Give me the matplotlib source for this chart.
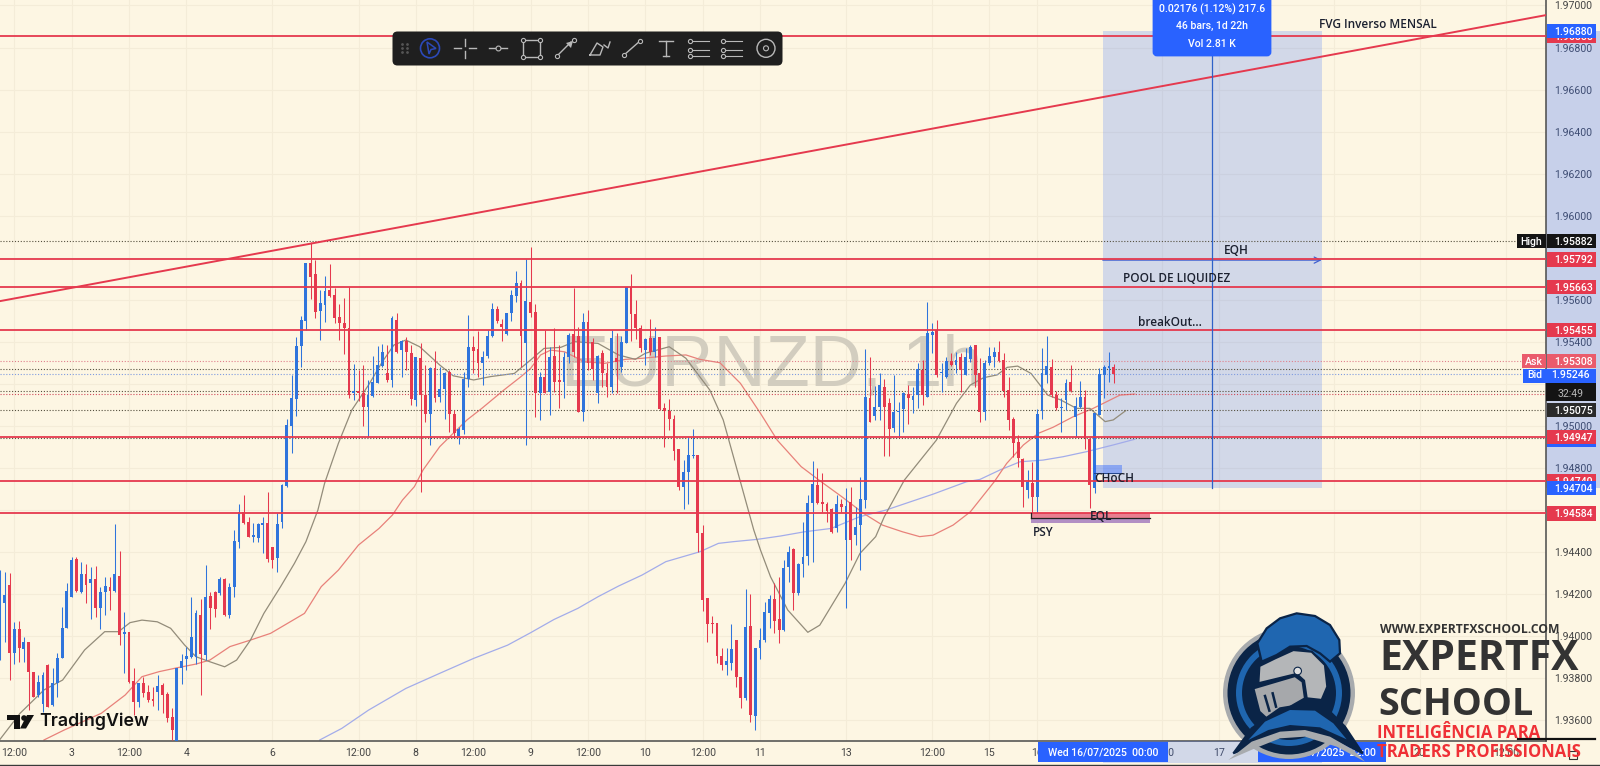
#!/usr/bin/env python3
import numpy as np
import matplotlib
matplotlib.use('Agg')
import matplotlib.pyplot as plt
from matplotlib.patches import Rectangle, Circle, Polygon, FancyBboxPatch, Wedge

plt.rcParams['font.family'] = ['Roboto', 'DejaVu Sans']

# hourly EURNZD candles, in 1/100000 of a price unit
opens = [
    193895,194160,194244,193919,194033,193938,193971,193832,193721,193678,
    193863,193673,193776,193895,194041,194188,194366,194212,194296,194252,
    194271,194133,194212,194233,194217,194287,194009,194019,193789,193689,
    193779,193737,193700,193737,193768,193724,193618,193499,193848,193890,
    193903,193903,194101,193911,194192,194212,194204,194271,194101,194236,
    194450,194593,194545,194474,194466,194528,194540,194426,194371,194545,
    194715,195002,195128,195380,195501,195774,195723,195547,195575,195647,
    195623,195517,195488,195468,195155,195168,195155,195089,195144,195206,
    195285,195254,195219,195504,195361,195404,195349,195124,195322,195147,
    195057,195274,195140,195174,195258,195057,194952,194981,195222,195377,
    195365,195301,195333,195428,195555,195485,195437,195536,195618,195682,
    195393,195591,195540,195155,195235,195163,195333,195219,195211,195330,
    195437,195428,195068,195496,195401,195155,195349,195250,195187,195322,
    195279,195396,195659,195531,195464,195361,195417,195353,195425,195084,
    195071,195032,194891,194712,194783,194856,194862,194489,194180,194065,
    194065,193906,193863,193871,193982,193805,193705,194049,193621,193943,
    193982,194109,194176,194080,194030,194328,194413,194204,194344,194382,
    194635,194719,194640,194629,194604,194513,194629,194458,194640,194481,
    194529,194648,195132,195048,195092,195187,195108,194989,195068,195079,
    195152,195124,195147,195266,195140,195433,195457,195250,195235,195311,
    195290,195330,195243,195317,195385,195250,195068,195298,195330,195353,
    195314,195171,195032,194925,194843,194696,194727,194664,195073,195242,
    195282,195147,195084,195124,195211,195044,195089,195139,194937,194704,
    195052,195242,195277,195282,
]
closes = [
    194165,194196,193922,194033,193943,193974,193832,193713,193784,193816,
    193665,193776,193895,194038,194215,194363,194217,194296,194244,194271,
    194133,194212,194239,194217,194295,194006,194022,193784,193689,193776,
    193729,193697,193694,193764,193721,193610,193554,193848,193884,193906,
    193995,194109,193916,194188,194133,194128,194271,194101,194236,194455,
    194593,194537,194474,194482,194534,194540,194366,194363,194534,194719,
    195005,195135,195380,195504,195774,195710,195544,195586,195644,195618,
    195512,195488,195468,195147,195168,195155,195092,195147,195208,195290,
    195353,195219,195512,195353,195404,195353,195127,195327,195147,195057,
    195274,195132,195174,195254,195057,194965,194986,195222,195377,195358,
    195298,195330,195428,195555,195499,195472,195536,195623,195682,195428,
    195594,195536,195155,195235,195155,195327,195211,195208,195327,195433,
    195353,195068,195496,195298,195269,195333,195250,195187,195417,195306,
    195401,195659,195531,195464,195369,195412,195353,195417,195081,195071,
    195032,194883,194708,194783,194862,194859,194490,194172,194057,194058,
    193906,193863,193882,193938,193805,193705,194042,193626,193943,193982,
    194114,194176,194074,194030,194323,194402,194207,194344,194378,194635,
    194724,194635,194629,194597,194497,194629,194616,194619,194458,194521,
    194651,195140,195021,195092,195195,195092,194984,195068,195071,195155,
    195132,195144,195269,195147,195444,195449,195243,195258,195311,195290,
    195314,195266,195330,195377,195243,195068,195298,195333,195353,195309,
    195166,195029,194918,194846,194708,194735,194664,195057,195254,195285,
    195147,195084,195089,195206,195168,195095,195136,194941,194719,195060,
    195247,195282,195285,195246,
]
highs = [
    194315,194307,194299,194069,194074,193998,193974,193832,193816,193832,
    193868,193848,193922,194141,194252,194375,194375,194355,194344,194331,
    194334,194233,194283,194283,194534,194407,194117,194019,193848,193779,
    193808,193768,193760,193816,193779,193737,193657,193848,193916,193951,
    194188,194125,194176,194339,194212,194217,194283,194275,194252,194505,
    194629,194672,194566,194537,194540,194569,194686,194426,194585,194725,
    195032,195243,195425,195523,195774,195877,195789,195647,195713,195770,
    195655,195580,195610,195659,195293,195266,195290,195219,195333,195380,
    195390,195385,195523,195539,195409,195425,195385,195330,195393,195290,
    195282,195358,195279,195258,195266,195076,194997,195255,195528,195428,
    195452,195358,195457,195583,195571,195507,195539,195647,195737,195694,
    195793,195853,195580,195258,195457,195374,195464,195385,195353,195444,
    195655,195472,195536,195552,195417,195338,195361,195298,195457,195441,
    195428,195663,195721,195599,195480,195417,195507,195469,195425,195111,
    195127,195052,194891,194838,194949,194986,194862,194529,194180,194096,
    194065,193946,193946,194058,193982,193805,194223,194201,193946,194038,
    194161,194196,194252,194283,194363,194429,194418,194347,194545,194672,
    194835,194802,194775,194640,194608,194672,194651,194703,194711,194616,
    194759,195365,195330,195190,195250,195224,195132,195243,195116,195163,
    195195,195187,195298,195314,195588,195491,195504,195298,195327,195349,
    195353,195346,195369,195385,195385,195322,195314,195377,195377,195406,
    195349,195235,195044,194957,194846,194791,194830,195079,195369,195428,
    195317,195168,195131,195222,195290,195139,195215,195171,194941,195060,
    195274,195290,195350,195295,
]
lows = [
    193887,193974,193792,193868,193879,193879,193649,193713,193713,193642,
    193662,193668,193713,193895,194038,194188,194212,194207,194160,194081,
    194090,194033,194101,194125,194212,193959,193824,193779,193626,193665,
    193713,193689,193668,193649,193634,193594,193507,193467,193773,193840,
    193895,193868,193721,193887,194033,194093,194196,194096,194085,194185,
    194421,194534,194470,194450,194450,194394,194355,194323,194307,194515,
    194712,194873,195049,195282,195457,195602,195512,195409,195496,195615,
    195488,195409,195342,195132,195124,195120,194999,194949,195140,195203,
    195282,195211,195187,195349,195235,195266,195100,195097,194688,195021,
    194910,195116,195116,195032,194973,194949,194914,194962,195184,195250,
    195235,195195,195322,195425,195491,195406,195431,195501,195591,195282,
    194910,195520,195044,195029,195155,195052,195163,195084,195132,195298,
    195330,195068,195025,195266,195219,195111,195187,195140,195155,195155,
    195258,195393,195406,195412,195353,195290,195338,195330,195076,194899,
    194981,194838,194696,194604,194629,194846,194402,194122,193971,194014,
    193871,193840,193816,193840,193757,193657,193697,193594,193554,193892,
    193974,194038,194017,193966,194027,194260,194125,194196,194283,194339,
    194355,194629,194592,194545,194489,194497,194592,194133,194363,194434,
    194315,194608,195017,195029,195029,194859,194857,194970,194949,194973,
    195010,195063,195084,195100,195136,195346,195235,195163,195227,195285,
    195250,195163,195243,195306,195187,195021,195029,195290,195282,195306,
    195140,194981,194854,194807,194616,194656,194585,194588,195032,195203,
    195139,195076,194973,195076,195163,194949,195084,194889,194608,194683,
    195052,195131,195211,195206,
]

# moving averages: bar position, value
grey_ma_bars = [0,4.2,9.2,13.1,17.7,21.9,24.8,27.2,29.7,32.9,35.7,38.6,41,43.9,47,49.5,52.4,55.2,58.7,61.6,
                64,66.5,67.9,70.8,73.6,77.1,80,82.4,84.9,87.8,92,94.8,99.1,102.6,107.6,111,113.8,117.3,120.2,125.1,
                129.4,132.9,135,140,143.5,148.5,151.3,154.8,157.7,159.1,161.2,164.8,169,171.5,176.8,179.9,183.2,185,189.2,195.9,
                200.1,203,205.8,208.6,210.7,212.9,215.7,219.2,221.9,225.2,228,231.2,232.9,235.5]
grey_ma_vals = [193510,193634,193745,193792,193935,194022,194022,194065,194077,194069,194038,193959,193903,193879,193855,193887,193982,194109,194236,194347,
                194450,194600,194727,194918,195076,195195,195306,195385,195409,195377,195290,195239,195219,195235,195250,195314,195369,195374,195401,195393,
                195338,195317,195346,195377,195322,195171,195029,194743,194505,194410,194283,194125,194019,194053,194252,194394,194474,194569,194743,194933,
                195108,195195,195230,195243,195279,195285,195250,195147,195124,195084,195084,195021,195029,195073]
red_ma_bars = [9.2,13.4,21.2,26.2,29.7,33.3,37.2,41,43.9,48.1,52.4,56.6,63.7,67.2,70.8,75,79.3,82.1,84.2,86.7,
               88.5,92,94.8,97.7,100.8,105.4,109,111,113.1,115.2,118.1,122.3,126.5,130.8,134.3,139.3,143.5,146.4,150.6,154.9,
               159.1,162.6,167.6,171.8,176.1,180.7,184.6,188.8,192.4,195.2,199.4,203,208,210.6,214.1,217.2,220.3,224.5,228.7,234.3,237.4]
red_ma_vals = [193507,193554,193634,193721,193808,193832,193851,193868,193887,193951,193982,194014,194109,194236,194315,194434,194513,194577,194648,194712,
               194791,194902,194965,195029,195084,195171,195235,195274,195338,195361,195353,195306,195298,195317,195322,195333,195338,195317,195301,195203,
               195060,194933,194807,194735,194664,194584,194529,194497,194474,194481,194529,194592,194735,194822,194910,194965,194994,195044,195084,195147,195152]
blue_ma_bars = [66.9,71.5,77.1,84.9,92,99.1,106.2,111,115.9,120.9,125.1,129.4,134.3,139.3,146.4,150.3,153.4,158.4,163.3,168.3,
                173.9,179.9,185.3,195.2,202.2,205,209.2,213.4,218.2,222.4,227.3,232.9,237.4]
blue_ma_vals = [193507,193562,193649,193752,193824,193895,193958,194017,194080,194133,194188,194239,194291,194355,194402,194442,194450,194461,194477,194497,
                194513,194569,194600,194676,194735,194746,194791,194830,194838,194854,194878,194910,194937]

red_levels = [1.96855, 1.95792, 1.95663, 1.95455, 1.94947, 1.94740, 1.94584]
dotted_levels = [1.95882, 1.95271, 1.95168, 1.95075, 1.94941]
dotted_soft_levels = [(1.95308, '#e0808c'), (1.95246, '#7f9be0'), (1.95152, '#d04a5a')]

trend_bars = [0, 323.4]
trend_prices = [1.95594, 1.96954]

range_bars = [230.7, 276.5]
range_prices = [1.94704, 1.96880]
range_mid_bar = 253.6

price_ticks = [1.936 + 0.002 * k for k in range(18)]
time_tick_bars = [3, 15, 27, 39, 57, 75, 87, 99, 111, 123, 135, 147, 159, 177, 195, 207, 217, 243, 255, 279, 297, 315]
time_tick_labels = ['12:00', '3', '12:00', '4', '6', '12:00', '8', '12:00', '9', '12:00', '10', '12:00', '11', '13',
                    '12:00', '15', '16', '12:00', '17', '18', '20', '12:00']

# (price, text, colour, side label) for the price scale tags
price_tags = [
    (1.96855, '1.96855', '#e5394e', None),
    (1.96880, '1.96880', '#2962ff', None),
    (1.95882, '1.95882', '#141414', 'High'),
    (1.95792, '1.95792', '#e5394e', None),
    (1.95663, '1.95663', '#e5394e', None),
    (1.95455, '1.95455', '#e5394e', None),
    (1.95308, '1.95308', '#ea5b6c', 'Ask'),
    (1.95075, '1.95075', '#2a2a2a', None),
    (1.94935, '1.94935', '#2962ff', None),
    (1.94947, '1.94947', '#e5394e', None),
    (1.94740, '1.94740', '#e5394e', None),
    (1.94704, '1.94704', '#2962ff', None),
    (1.94584, '1.94584', '#e5394e', None),
]

BG = '#fdf6e3'
GRID = '#f4ecd8'
BLUE = '#2f74dc'
RED = '#e5394e'
LINE_RED = '#e5394e'
TV_BLUE = '#2962ff'
TEXT = '#454545'

W, H = 1600, 766
fig = plt.figure(figsize=(W / 100, H / 100), dpi=100, facecolor=BG)
AX_R, AX_B = 1545.7, 740.6
ax = fig.add_axes([0, (H - AX_B) / H, AX_R / W, AX_B / H], facecolor=BG)
ax.set_xlim(0, AX_R / 4.78)
ax.set_ylim(1.93504, 1.97026)

# grid and axes
ax.set_yticks(price_ticks)
ax.set_yticklabels([f'{p:.5f}' for p in price_ticks])
ax.yaxis.tick_right()
ax.tick_params(axis='y', length=0, pad=5.8, labelsize=7.6, labelcolor=TEXT)
ax.set_xticks(time_tick_bars)
ax.set_xticklabels(time_tick_labels)
ax.tick_params(axis='x', length=0, pad=5.5, labelsize=7.6, labelcolor=TEXT)
ax.grid(True, color=GRID, lw=0.8, zorder=0)
ax.set_axisbelow(True)
for side in ['top', 'left']:
    ax.spines[side].set_visible(False)
for side in ['right', 'bottom']:
    ax.spines[side].set_color('#4a4a4a')
    ax.spines[side].set_linewidth(1.1)

# symbol watermark
ax.text(161.4, 1.95281, 'EURNZD, 1h', fontsize=52, color='#d2cdbf', family='Liberation Sans',
        ha='center', va='center', zorder=1)

# measure range box
x0, x1 = range_bars
p0, p1 = range_prices
ax.add_patch(Rectangle((x0, p0), x1 - x0, p1 - p0, fc=TV_BLUE, alpha=0.2, ec='none', zorder=1.2))
ax.plot([range_mid_bar, range_mid_bar], [p0, p1], color='#2f62c8', lw=0.9, zorder=4)

# moving averages
ax.plot(blue_ma_bars, np.array(blue_ma_vals) / 1e5, color='#a3acea', lw=0.9, zorder=2)
ax.plot(red_ma_bars, np.array(red_ma_vals) / 1e5, color='#e8817a', lw=0.9, zorder=2)
ax.plot(grey_ma_bars, np.array(grey_ma_vals) / 1e5, color='#938c7a', lw=0.9, zorder=2)

# candles
o = np.array(opens) / 1e5
c = np.array(closes) / 1e5
h = np.array(highs) / 1e5
l = np.array(lows) / 1e5
bars = np.arange(len(o))
colors = [BLUE if cc >= oo else RED for oo, cc in zip(o, c)]
ax.vlines(bars, l, h, colors=colors, lw=0.75, zorder=3)
ax.bar(bars, np.maximum(np.abs(c - o), 0.00004), bottom=np.minimum(o, c), width=0.6, color=colors, zorder=3.1)

# price levels
for p in dotted_levels:
    ax.axhline(p, color='#55503f', lw=0.8, ls=(0, (1, 1.6)), zorder=2.6)
for p, col in dotted_soft_levels:
    ax.axhline(p, color=col, lw=0.8, ls=(0, (1, 1.6)), zorder=2.6)
for p in red_levels:
    ax.axhline(p, color=LINE_RED, lw=1.3, zorder=3.5)
ax.plot(trend_bars, trend_prices, color=LINE_RED, lw=1.4, zorder=3.5)

# EQH arrow, its shaft mostly hidden by the red level
ax.annotate('', xy=(x1, 1.95789), xytext=(x0, 1.95789),
            arrowprops=dict(arrowstyle='->', color='#3f5fd0', lw=0.9, mutation_scale=11, shrinkA=0, shrinkB=0), zorder=3.4)

# order block and equal lows boxes
ax.add_patch(Rectangle((228.9, 1.94772), 5.8, 0.00043, fc=TV_BLUE, alpha=0.42, ec='none', zorder=3.6))
ax.plot([228.9, 234.7], [1.94776, 1.94776], color='#22448a', lw=0.7, zorder=3.7)
ax.add_patch(Rectangle((215.6, 1.94561), 24.9, 0.00027, fc='#e87f90', ec='none', zorder=3.3))
ax.add_patch(Rectangle((215.6, 1.94537), 24.9, 0.00024, fc='#b28fc4', ec='none', zorder=3.3))
ax.plot([215.6, 240.5], [1.94561, 1.94561], color='#222222', lw=0.9, zorder=3.8)
ax.plot([215.6, 215.6], [1.94561, 1.94588], color='#222222', lw=0.9, zorder=3.8)

# right scale: range band and tags
yaxis_tf = ax.get_yaxis_transform()
R_END = W / AX_R
TAG_R = 1595.7 / AX_R
TAG_H = 0.00067
ax.add_patch(Rectangle((1, p0), R_END - 1, p1 - p0, transform=yaxis_tf, fc=TV_BLUE, alpha=0.25, ec='none',
                       clip_on=False, zorder=2))


def price_tag(price, text, color, side=None, z=5.0, height=TAG_H):
    ax.add_patch(Rectangle((1.0006, price - height / 2), TAG_R - 1.0006, height, transform=yaxis_tf,
                           fc=color, ec='none', clip_on=False, zorder=z))
    ax.text(1569.5 / AX_R + 0.0025, price, text, transform=yaxis_tf, color='white', fontsize=7.6, fontweight='medium',
            ha='center', va='center_baseline', zorder=z + 0.01, clip_on=False)
    if side:
        left = 1 - {'High': 29, 'Ask': 24, 'Bid': 23}[side] / AX_R
        ax.add_patch(Rectangle((left, price - height / 2), 1 - left, height, transform=yaxis_tf,
                               fc=color, ec='none', clip_on=False, zorder=z))
        ax.text((left + 1) / 2, price, side, transform=yaxis_tf, color='white', fontsize=7.6, fontweight='medium',
                ha='center', va='center_baseline', zorder=z + 0.01, clip_on=False)


for n, tag in enumerate(price_tags):
    price_tag(*tag, z=5 + 0.1 * n)

# overlay in picture pixels for everything that floats above the chart
ov = fig.add_axes([0, 0, 1, 1], facecolor='none', zorder=10)
ov.set_xlim(0, W)
ov.set_ylim(H, 0)
ov.axis('off')

# countdown block sits under the bid tag
ov.add_patch(Rectangle((1546, 382), 50, 19, fc='#141414', ec='none'))
ov.text(1571, 394, '32:49', color='#b8b8b8', fontsize=7.6, ha='center', va='center')
ov.add_patch(Rectangle((1546, 368.5), 50, 14, fc='#2962ff', ec='none'))
ov.text(1571, 375.5, '1.95246', color='white', fontsize=7.6, fontweight='medium', ha='center', va='center')
ov.add_patch(Rectangle((1523, 368.5), 23, 14, fc='#2962ff', ec='none'))
ov.text(1534.5, 375.5, 'Bid', color='white', fontsize=7.6, fontweight='medium', ha='center', va='center')

# time axis band and cursor labels, the logo covers part of them
ov.add_patch(Rectangle((1103, 741.4), 219, 22, fc=TV_BLUE, alpha=0.2, ec='none', zorder=0.7))
ov.add_patch(Rectangle((1037.5, 741.5), 130.5, 20, fc=TV_BLUE, ec='none', zorder=0.8))
ov.text(1103, 752, 'Wed 16/07/2025  00:00', color='white', fontsize=7.6, fontweight='medium', ha='center', va='center', zorder=0.9)
ov.add_patch(Rectangle((1258, 741.5), 128, 20, fc=TV_BLUE, ec='none', zorder=0.8))
ov.text(1322, 752, 'Thu 17/07/2025  22:00', color='white', fontsize=7.6, fontweight='medium', ha='center', va='center', zorder=0.9)
ov.plot([0, W], [765.2, 765.2], color='#3a3a3a', lw=1.0)

# measure tooltip
ov.add_patch(FancyBboxPatch((1154, -6), 116, 61, boxstyle='round,pad=0,rounding_size=3', fc=TV_BLUE, ec=TV_BLUE, lw=2))
for yy, s in [(9, '0.02176 (1.12%) 217.6'), (26, '46 bars, 1d 22h'), (44, 'Vol 2.81 K')]:
    ov.text(1212, yy, s, color='white', fontsize=7.6, fontweight='medium', ha='center', va='center')

# drawing labels
LBL = '#1c2130'
for xx, yy, s, ha in [(1319, 25, 'FVG Inverso MENSAL', 'left'), (1236, 251, 'EQH', 'center'),
                      (1176.5, 279, 'POOL DE LIQUIDEZ', 'center'), (1170, 323, 'breakOut...', 'center'),
                      (1114, 478, 'CHoCH', 'center'), (1101, 517, 'EQL', 'center'), (1043, 532, 'PSY', 'center')]:
    ov.text(xx, yy, s, color=LBL, fontsize=8.5, fontweight='semibold', family='Open Sans', ha=ha, va='center')

# drawing toolbar
ov.add_patch(FancyBboxPatch((395, 34), 385, 29, boxstyle='round,pad=2.5,rounding_size=5', fc='#1f1f1f', ec='none'))
IC = '#b9b9b9'
IY = 48.3
ov.plot([402, 402, 402, 407, 407, 407], [44, 48, 52, 44, 48, 52], ls='none', marker='o', ms=1, color='#555555')
ov.add_patch(Circle((430, IY), 9.5, fc='none', ec='#2c49b8', lw=1.2))
ov.add_patch(Polygon([(427, 42), (436, 48.5), (431, 49.5), (429, 54)], fc='none', ec='#2c49b8', lw=1.1))
ov.plot([454, 461], [IY, IY], color=IC, lw=1)
ov.plot([469, 476], [IY, IY], color=IC, lw=1)
ov.plot([464.5, 464.5], [39, 46], color=IC, lw=1)
ov.plot([464.5, 464.5], [51, 58], color=IC, lw=1)
ov.plot([489, 507], [IY, IY], color=IC, lw=1)
ov.plot([498], [IY], marker='o', ms=3.5, mfc='#1f1f1f', mec=IC, mew=0.8)
ov.add_patch(Rectangle((523, 40), 17, 17, fc='none', ec=IC, lw=1))
ov.plot([523, 540, 523, 540], [40, 40, 57, 57], ls='none', marker='o', ms=3, mfc='#1f1f1f', mec=IC, mew=0.8)
ov.plot([557, 571], [56, 42], color=IC, lw=1)
ov.add_patch(Polygon([(566, 43), (573, 41), (571, 48)], fc=IC, ec='none'))
ov.plot([557, 574], [56, 40], ls='none', marker='o', ms=3, mfc='#1f1f1f', mec=IC, mew=0.8)
ov.plot([590, 600, 603, 597, 590], [55, 55, 47, 43, 55], color=IC, lw=1)
ov.plot([604, 608, 610], [45, 48, 42], color=IC, lw=1)
ov.plot([624, 640], [55, 41], color=IC, lw=1)
ov.plot([624, 640], [55, 41], ls='none', marker='o', ms=3, mfc='#1f1f1f', mec=IC, mew=0.8)
ov.plot([666, 666], [41, 56], color=IC, lw=1)
ov.plot([659, 673], [41, 41], color=IC, lw=1)
ov.plot([663, 669], [56, 56], color=IC, lw=1)
for base in [690, 723]:
    for yy in [41, 50, 56]:
        ov.plot([base + 2, base + 19], [yy, yy], color=IC, lw=0.8)
    ov.plot([base, base, base], [41, 50, 56], ls='none', marker='o', ms=3, mfc='#1f1f1f', mec=IC, mew=0.8)
ov.add_patch(Circle((766, IY), 9, fc='none', ec=IC, lw=1))
ov.add_patch(Circle((766, IY), 2.5, fc='none', ec=IC, lw=0.8))

# TradingView mark
ov.add_patch(Polygon([(7, 715), (20, 715), (20, 728.5), (13.5, 728.5), (13.5, 720), (7, 720)], fc='#111111', ec='none'))
ov.add_patch(Circle((24, 718), 2.8, fc='#111111', ec='none'))
ov.add_patch(Polygon([(26, 728.5), (20, 728.5), (27, 715), (34, 715)], fc='#111111', ec='none'))
ov.text(39.5, 721.5, 'TradingView', color='#111111', fontsize=12.8, fontweight='semibold', family='Inter', ha='left', va='center')


# school logo
def lz(pts):
    return [(1180 + x / 3, 590 + y / 3) for x, y in pts]


NAVY = '#0a2447'
LOGO_BLUE = '#1f66b0'
lc = (1289, 693)
ov.add_patch(Circle(lc, 66, fc='#a8abae', ec='none'))
ov.add_patch(Circle(lc, 61.5, fc=NAVY, ec='none'))
ov.add_patch(Wedge(lc, 53, 0, 360, width=6, fc=LOGO_BLUE, ec='none'))
plume = [(232, 160), (260, 115), (300, 85), (350, 70), (405, 78), (450, 105), (478, 150), (480, 190), (450, 215),
         (420, 190), (380, 168), (330, 170), (290, 195), (245, 215)]
ov.add_patch(Polygon(lz(plume), fc=LOGO_BLUE, ec=NAVY, lw=1.6))
helmet = [(238, 228), (285, 205), (340, 180), (395, 185), (435, 225), (442, 290), (425, 330), (380, 325), (372, 272),
          (350, 252), (235, 280)]
ov.add_patch(Polygon(lz(helmet), fc='#b4b6b8', ec=NAVY, lw=1.6))
ov.add_patch(Circle((1180 + 353 / 3, 590 + 243 / 3), 3.8, fc='#e0e0e0', ec=NAVY, lw=0.8))
visor = [(220, 295), (345, 258), (368, 275), (375, 325), (340, 345), (265, 390), (238, 365)]
ov.add_patch(Polygon(lz(visor), fc='#a6a8ab', ec=NAVY, lw=1.6))
ov.plot(*zip(*lz([(255, 318), (268, 362)])), color=NAVY, lw=1.8)
ov.plot(*zip(*lz([(278, 310), (288, 350)])), color=NAVY, lw=1.8)
mantle_navy = [(160, 490), (215, 415), (300, 355), (390, 340), (450, 365), (495, 410), (548, 490), (470, 450),
               (390, 432), (300, 438), (225, 465)]
ov.add_patch(Polygon(lz(mantle_navy), fc=NAVY, ec=NAVY, lw=1.5))
mantle_blue = [(205, 450), (255, 395), (330, 360), (405, 362), (460, 400), (500, 448), (420, 412), (330, 405), (265, 420)]
ov.add_patch(Polygon(lz(mantle_blue), fc=LOGO_BLUE, ec='none'))
grey_arc = [(145, 510), (215, 455), (300, 425), (375, 420), (450, 440), (520, 480), (555, 515), (470, 470), (375, 440),
            (300, 445), (225, 475)]
ov.add_patch(Polygon(lz(grey_arc), fc='#a8abae', ec='none'))

ov.text(1470, 629.5, 'WWW.EXPERTFXSCHOOL.COM', color='#333333', fontsize=8.75, fontweight='bold', family='Open Sans',
        ha='center', va='center')
ov.text(1379, 660, 'EXPERTFX', color='#333333', fontsize=29.5, fontweight='bold', family='Open Sans', ha='left', va='center')
ov.text(1378, 705, 'SCHOOL', color='#333333', fontsize=27.2, fontweight='bold', family='Open Sans', ha='left', va='center')
ov.text(1377, 732.7, 'INTELIGÊNCIA PARA', color='#ef3036', fontsize=12, fontweight='bold', family='Open Sans', ha='left', va='center')
ov.text(1377, 751.7, 'TRADERS PROFISSIONAIS', color='#ef3036', fontsize=12, fontweight='bold', family='Open Sans', ha='left', va='center')
ov.plot([1518, 1595], [739, 739], color='#111111', lw=1.6)
ov.add_patch(Rectangle((1569, 751), 8, 8, fc='none', ec='#333333', lw=0.8))

fig.savefig('out.png', dpi=100, facecolor=BG)
